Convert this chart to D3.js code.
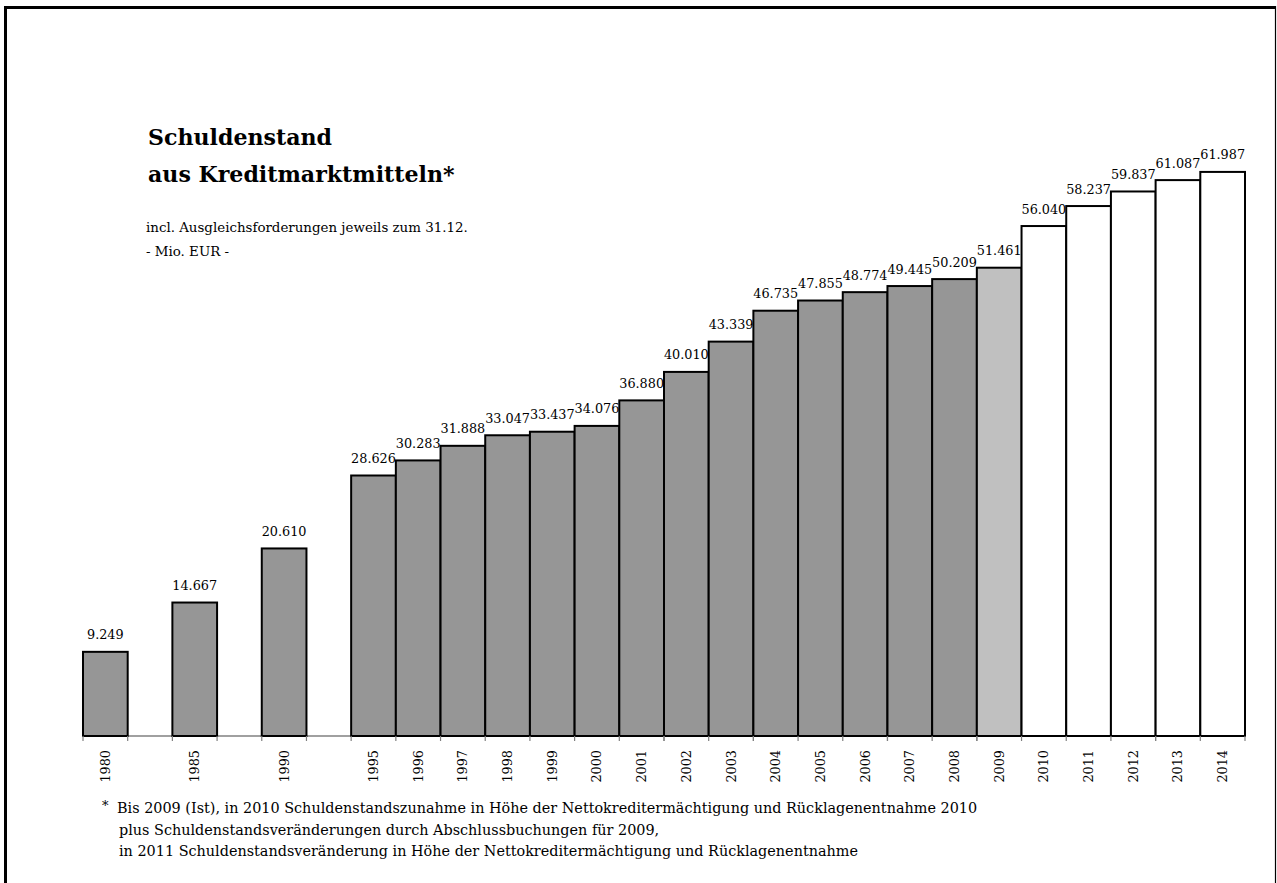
<!DOCTYPE html>
<html>
<head>
<meta charset="utf-8">
<script src="https://cdn.jsdelivr.net/npm/d3@7"></script>
<style>
  html, body { margin: 0; padding: 0; background: #fff; }
  svg { display: block; }
</style>
</head>
<body>
<svg id="chart" width="1277" height="883"></svg>
<script>
// Schuldenstand aus Kreditmarktmitteln (Mio. EUR), jeweils zum 31.12.
const years = ["1980", "1985", "1990", "1995", "1996", "1997", "1998", "1999", "2000",
  "2001", "2002", "2003", "2004", "2005", "2006", "2007", "2008", "2009",
  "2010", "2011", "2012", "2013", "2014"];
const values = [9.249, 14.667, 20.610, 28.626, 30.283, 31.888, 33.047, 33.437, 34.076,
  36.880, 40.010, 43.339, 46.735, 47.855, 48.774, 49.445, 50.209, 51.461,
  56.040, 58.237, 59.837, 61.087, 61.987];
// Ist = actual, Vorl = preliminary, Plan = planned
const status = ["Ist", "Ist", "Ist", "Ist", "Ist", "Ist", "Ist", "Ist", "Ist",
  "Ist", "Ist", "Ist", "Ist", "Ist", "Ist", "Ist", "Ist", "Vorl",
  "Plan", "Plan", "Plan", "Plan", "Plan"];
const valueLabels = ["9.249", "14.667", "20.610", "28.626", "30.283", "31.888", "33.047",
  "33.437", "34.076", "36.880", "40.010", "43.339", "46.735", "47.855", "48.774",
  "49.445", "50.209", "51.461", "56.040", "58.237", "59.837", "61.087", "61.987"];
const titleLines = ["Schuldenstand", "aus Kreditmarktmitteln*"];
const subtitleLines = ["incl. Ausgleichsforderungen jeweils zum 31.12.", "- Mio. EUR -"];
const footnoteLines = [
  "Bis 2009 (Ist), in 2010 Schuldenstandszunahme in Höhe der Nettokreditermächtigung und Rücklagenentnahme 2010",
  "plus Schuldenstandsveränderungen durch Abschlussbuchungen für 2009,",
  "in 2011 Schuldenstandsveränderung in Höhe der Nettokreditermächtigung und Rücklagenentnahme"
];

const data = years.map((y, i) => ({ year: y, value: values[i], status: status[i], label: valueLabels[i] }));

const fillFor = { Ist: "#969696", Vorl: "#c0c0c0", Plan: "#ffffff" };
const serif = "'DejaVu Serif', 'Liberation Serif', serif";

const svg = d3.select("#chart");

// Frame
svg.append("line").attr("x1", 5.5).attr("y1", 7).attr("x2", 5.5).attr("y2", 883)
  .attr("stroke", "#000").attr("stroke-width", 3);
svg.append("line").attr("x1", 4).attr("y1", 7.5).attr("x2", 1276).attr("y2", 7.5)
  .attr("stroke", "#000").attr("stroke-width", 3);
svg.append("line").attr("x1", 1275.5).attr("y1", 6).attr("x2", 1275.5).attr("y2", 883)
  .attr("stroke", "#000").attr("stroke-width", 1.2);

// Slots: the five-year steps up to 1995 are separated by an empty slot
const slots = [];
years.forEach((y, i) => {
  slots.push(y);
  if (i < 3) slots.push("gap" + i);
});

const x = d3.scaleBand().domain(slots).range([83, 1245]).paddingInner(0).paddingOuter(0);
const y = d3.scaleLinear().domain([0, 70]).range([736, 99]);

// Baseline
svg.append("line")
  .attr("x1", x.range()[0]).attr("x2", x.range()[1])
  .attr("y1", y(0)).attr("y2", y(0))
  .attr("stroke", "#808080").attr("stroke-width", 1.5);

// Bars
svg.append("g").selectAll("rect").data(data).join("rect")
  .attr("x", d => x(d.year))
  .attr("y", d => y(d.value))
  .attr("width", x.bandwidth())
  .attr("height", d => y(0) - y(d.value))
  .attr("fill", d => fillFor[d.status])
  .attr("stroke", "#000")
  .attr("stroke-width", 2);

// Tick marks at the bar edges
const edges = new Set();
data.forEach(d => { edges.add(x(d.year)); edges.add(x(d.year) + x.bandwidth()); });
svg.append("g").selectAll("line").data([...edges]).join("line")
  .attr("x1", d => d).attr("x2", d => d)
  .attr("y1", y(0)).attr("y2", y(0) + 5)
  .attr("stroke", "#808080").attr("stroke-width", 1.2);

// Year labels (rotated)
const axis = d3.axisBottom(x).tickValues(years).tickSize(0).tickPadding(0);
const axisG = svg.append("g").attr("transform", `translate(0,${y(0)})`).call(axis);
axisG.select(".domain").remove();
axisG.selectAll(".tick text")
  .attr("font-family", serif)
  .attr("font-size", 12.8)
  .attr("fill", "#000")
  .attr("transform", "rotate(-90)")
  .attr("text-anchor", "end")
  .attr("x", -14)
  .attr("y", 0)
  .attr("dy", "0.35em");

// Value labels
svg.append("g").selectAll("text").data(data).join("text")
  .attr("x", d => x(d.year) + x.bandwidth() / 2)
  .attr("y", d => y(d.value) - 12.5)
  .attr("text-anchor", "middle")
  .attr("font-family", serif)
  .attr("font-size", 12.8)
  .attr("fill", "#000")
  .text(d => d.label);

// Title
svg.append("g").selectAll("text").data(titleLines).join("text")
  .attr("x", 148)
  .attr("y", (d, i) => 145 + i * 37)
  .attr("font-family", serif)
  .attr("font-weight", "bold")
  .attr("font-size", 22.1)
  .attr("fill", "#000")
  .text(d => d);

// Subtitle
svg.append("g").selectAll("text").data(subtitleLines).join("text")
  .attr("x", 146)
  .attr("y", (d, i) => 232 + i * 24)
  .attr("font-family", serif)
  .attr("font-size", 13.4)
  .attr("fill", "#000")
  .text(d => d);

// Footnote
svg.append("text").attr("x", 102).attr("y", 810)
  .attr("font-family", serif).attr("font-size", 13).attr("fill", "#000").text("*");
svg.append("g").selectAll("text").data(footnoteLines).join("text")
  .attr("x", (d, i) => i === 0 ? 117 : 119)
  .attr("y", (d, i) => 813 + i * 21.5)
  .attr("font-family", serif)
  .attr("font-size", 14.4)
  .attr("fill", "#000")
  .text(d => d);
</script>
</body>
</html>
